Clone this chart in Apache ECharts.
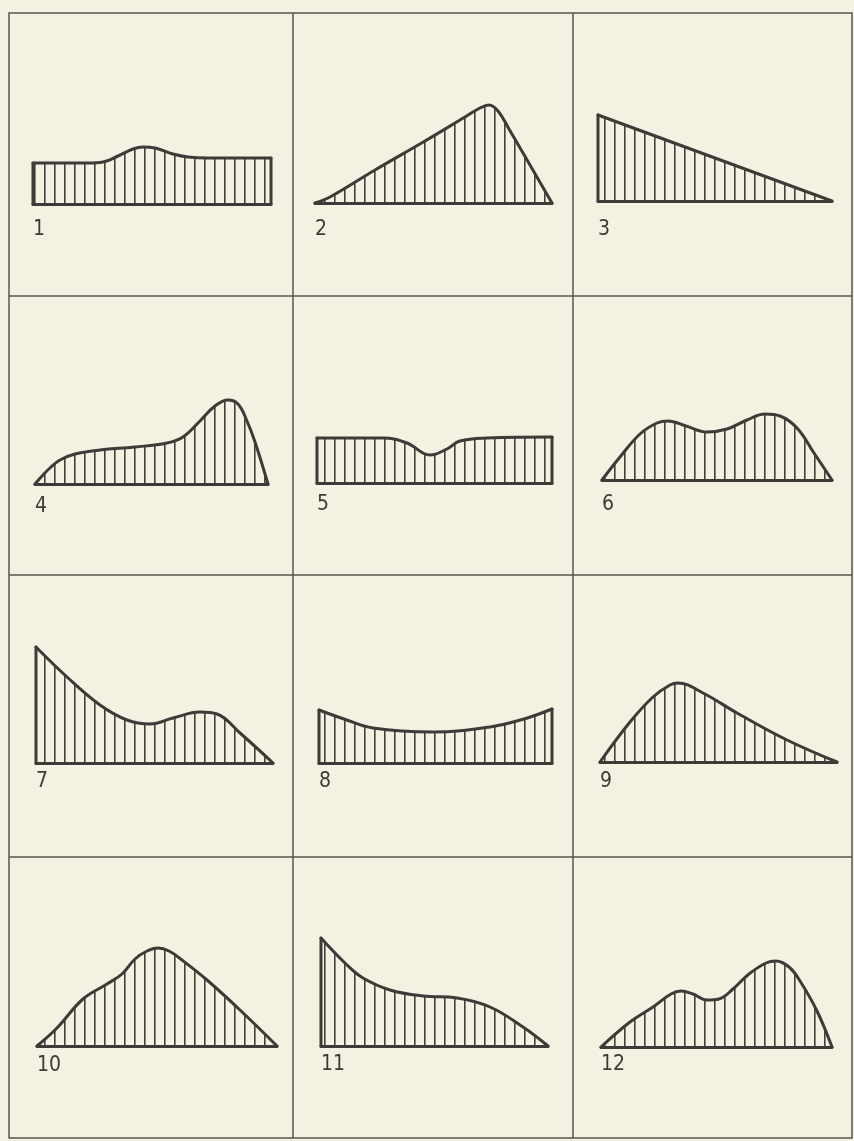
<!DOCTYPE html>
<html>
<head>
<meta charset="UTF-8">
<title>Formas de distribución</title>
<script src="https://cdn.jsdelivr.net/npm/echarts@6.0.0/dist/echarts.min.js"></script>
<style>
  html, body { margin: 0; padding: 0; background: #f4f1e2; }
  #main { width: 854px; height: 1141px; }
</style>
</head>
<body>
<div id="main"></div>
<script>
// perfiles: [x, altura] (x desde el borde izquierdo de cada forma)
const shape1 = [[0,41],[55,41],[70,42],[85,48],[100,55],[110,57],[122,56],[140,50],[155,47],[175,46],[238,46]];
const shape2 = [[0,0],[15,6],[60,33],[110,62],[150,86],[165,95],[174,98],[183,92],[194,74],[237,0]];
const shape3 = [[0,86],[234,0]];
const shape4 = [[0,0],[8,9],[15,16],[25,24],[40,30],[65,34],[100,37],[132,41],[148,47],[165,63],[180,78],[193,84],[203,80],[212,63],[220,42],[233,0]];
const shape5 = [[0,45],[66,45],[90,40],[113,28],[130,34],[143,42],[170,45],[235,46]];
const shape6 = [[0,0],[18,23],[38,46],[55,57],[66,59],[84,54],[105,48],[125,51],[145,60],[163,66],[178,64],[195,52],[212,27],[230,0]];
const shape7 = [[0,116],[31,86],[64,58],[91,43],[114,39],[137,45],[164,51],[181,49],[204,30],[237,0]];
const shape8 = [[0,53],[25,44],[54,35],[114,31],[171,36],[205,44],[233,54]];
const shape9 = [[0,0],[30,40],[53,65],[70,77],[78,79],[103,69],[137,49],[187,22],[237,0]];
const shape10 = [[0,0],[20,18],[46,47],[70,62],[85,72],[98,87],[110,95],[121,98],[132,95],[145,86],[170,66],[203,36],[240,0]];
const shape11 = [[0,108],[26,81],[42,68],[69,56],[102,50],[136,48],[169,39],[202,19],[227,0]];
const shape12 = [[0,0],[29,25],[52,40],[70,53],[80,56],[92,53],[106,47],[118,48],[132,58],[148,73],[165,84],[175,86],[188,80],[199,66],[216,36],[231,0]];
const labels = ['1','2','3','4','5','6','7','8','9','10','11','12'];

const shapes = [shape1, shape2, shape3, shape4, shape5, shape6, shape7, shape8, shape9, shape10, shape11, shape12];
// triangulos / rectas sin suavizar
const straight = [false, false, true, false, false, false, false, false, false, false, false, false];

// posicion de cada forma en la lamina
const layout = [
  {left: 33, base: 204, ly: 230}, {left: 315, base: 203, ly: 230}, {left: 598, base: 201, ly: 230},
  {left: 35, base: 484, ly: 507}, {left: 317, base: 483, ly: 505}, {left: 602, base: 480, ly: 505},
  {left: 36, base: 763, ly: 782}, {left: 319, base: 763, ly: 782}, {left: 600, base: 762, ly: 782},
  {left: 37, base: 1046, ly: 1066}, {left: 321, base: 1046, ly: 1065}, {left: 601, base: 1047, ly: 1065}
];

const INK = '#3b3b37';
const H = 130;

// rayado vertical
const pat = document.createElement('canvas');
pat.width = 10; pat.height = 4;
const pctx = pat.getContext('2d');
pctx.fillStyle = '#42413c';
pctx.fillRect(4, 0, 1.6, 4);

const grids = [], xAxes = [], yAxes = [], series = [], graphics = [];

shapes.forEach(function(s, i) {
  const w = s[s.length - 1][0];
  const L = layout[i];
  grids.push({left: L.left, top: L.base - H, width: w, height: H});
  xAxes.push({
    type: 'value', gridIndex: i, min: 0, max: w, show: true,
    axisLine: {show: true, onZero: false, lineStyle: {color: INK, width: 3, cap: 'round'}},
    axisTick: {show: false}, axisLabel: {show: false}, splitLine: {show: false}
  });
  yAxes.push({type: 'value', gridIndex: i, min: 0, max: H, show: false});

  series.push({
    type: 'line', xAxisIndex: i, yAxisIndex: i, data: s,
    smooth: straight[i] ? false : 0.4,
    symbol: 'none', silent: true,
    lineStyle: {color: INK, width: 3, cap: 'round', join: 'round'},
    areaStyle: {color: {image: pat, repeat: 'repeat'}, opacity: 1, origin: 'start'}
  });

  // lados verticales
  const first = s[0], last = s[s.length - 1];
  if (first[1] > 0) {
    series.push({type: 'line', xAxisIndex: i, yAxisIndex: i, data: [[first[0], 0], first],
      symbol: 'none', silent: true, lineStyle: {color: INK, width: 3, cap: 'round'}});
  }
  if (last[1] > 0) {
    series.push({type: 'line', xAxisIndex: i, yAxisIndex: i, data: [last, [last[0], 0]],
      symbol: 'none', silent: true, lineStyle: {color: INK, width: 3, cap: 'round'}});
  }

  graphics.push({
    type: 'text', left: L.left, top: L.ly - 11, silent: true,
    style: {text: labels[i], fill: INK, font: '21px "Liberation Sans Narrow", "DejaVu Sans Condensed", "Liberation Sans", sans-serif'}
  });
});

// marco de la lamina
const frame = {stroke: '#55544f', lineWidth: 1.5};
graphics.push({type: 'rect', silent: true, shape: {x: 9, y: 13, width: 843, height: 1125}, style: Object.assign({fill: null}, frame)});
[293, 573].forEach(function(x) {
  graphics.push({type: 'line', silent: true, shape: {x1: x, y1: 13, x2: x, y2: 1138}, style: frame});
});
[296, 575, 857].forEach(function(y) {
  graphics.push({type: 'line', silent: true, shape: {x1: 9, y1: y, x2: 852, y2: y}, style: frame});
});

const chart = echarts.init(document.getElementById('main'), null, {renderer: 'canvas'});
chart.setOption({
  backgroundColor: '#f4f1e2',
  animation: false,
  grid: grids,
  xAxis: xAxes,
  yAxis: yAxes,
  series: series,
  graphic: graphics
});
</script>
</body>
</html>
